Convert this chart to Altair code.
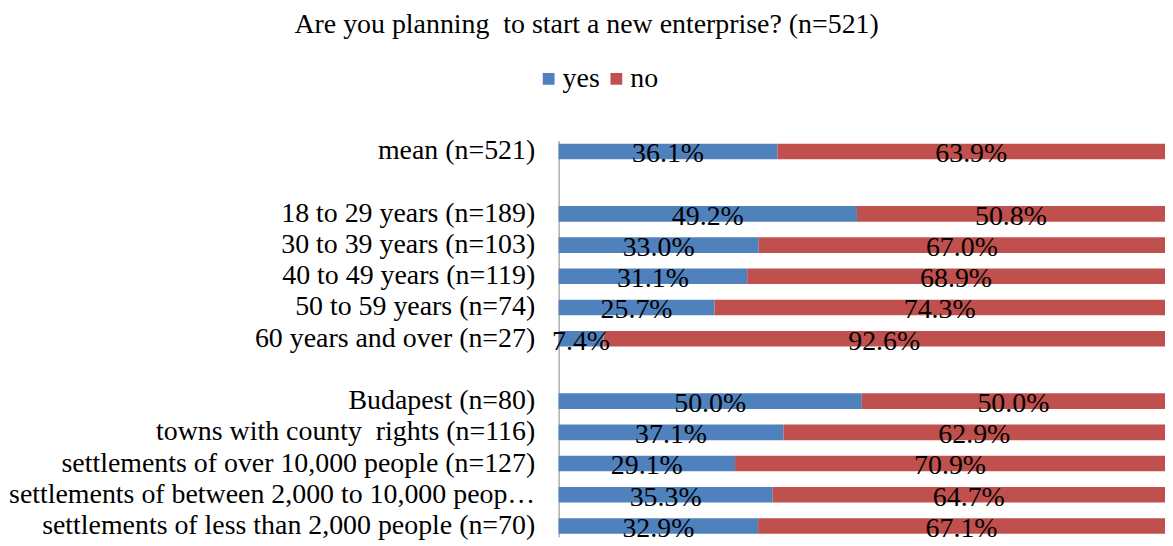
import altair as alt
import pandas as pd

categories = [
    "mean (n=521)",
    "gap1",
    "18 to 29 years (n=189)",
    "30 to 39 years (n=103)",
    "40 to 49 years (n=119)",
    "50 to 59 years (n=74)",
    "60 years and over (n=27)",
    "gap2",
    "Budapest (n=80)",
    "towns with county\u00a0 rights (n=116)",
    "settlements of over 10,000 people (n=127)",
    "settlements of between 2,000 to 10,000 people (n=128)",
    "settlements of less than 2,000 people (n=70)",
]
yes_values = [36.1, None, 49.2, 33.0, 31.1, 25.7, 7.4, None, 50.0, 37.1, 29.1, 35.3, 32.9]
no_values = [63.9, None, 50.8, 67.0, 68.9, 74.3, 92.6, None, 50.0, 62.9, 70.9, 64.7, 67.1]
answers = ["yes", "no"]
colors = ["#4F81BD", "#C0504D"]

rows = []
for c, y, n in zip(categories, yes_values, no_values):
    if y is None:
        continue
    rows.append({"category": c, "answer": "yes", "order": 0, "value": y})
    rows.append({"category": c, "answer": "no", "order": 1, "value": n})
df = pd.DataFrame(rows)

FONT = "Liberation Serif"

y_enc = alt.Y(
    "category:N",
    sort=categories,
    scale=alt.Scale(domain=categories, paddingInner=0.5, paddingOuter=0.1),
    axis=alt.Axis(
        title=None,
        ticks=False,
        domainColor="#868686",
        domainWidth=1,
        labelFont=FONT,
        labelFontSize=28,
        labelColor="black",
        labelPadding=24,
        labelLimit=530,
        labelExpr="indexof(datum.value, 'gap') == 0 ? '' : datum.value",
    ),
)

base = alt.Chart(df).transform_stack(
    stack="value", as_=["x0", "x1"], groupby=["category"], sort=[alt.SortField("order")]
)

bars = base.mark_bar().encode(
    y=y_enc,
    x=alt.X("x0:Q", scale=alt.Scale(domain=[0, 100], nice=False), axis=None),
    x2="x1:Q",
    color=alt.Color(
        "answer:N",
        scale=alt.Scale(domain=answers, range=colors),
        legend=alt.Legend(
            title=None,
            orient="none",
            direction="horizontal",
            legendX=-24,
            legendY=-76,
            symbolType="square",
            symbolSize=140,
            symbolStrokeWidth=0,
            labelFont=FONT,
            labelFontSize=28,
            labelColor="black",
            columnPadding=2,
            labelOffset=0,
        ),
    ),
)

texts = base.transform_calculate(
    mid="(datum.x0 + datum.x1) / 2",
    label="format(datum.value, '.1f') + '%'",
).mark_text(font=FONT, fontSize=28, color="black", baseline="middle", dy=3).encode(
    y=alt.Y("category:N", sort=categories),
    x=alt.X("mid:Q"),
    text="label:N",
)

chart = (
    alt.layer(bars, texts)
    .properties(
        width=609,
        height=398,
        title=alt.TitleParams(
            "Are you planning\u00a0 to start a new enterprise? (n=521)",
            font=FONT,
            fontSize=28,
            fontWeight="normal",
            color="black",
            anchor="middle",
            frame="bounds",
            offset=26,
        ),
        padding={"top": 2, "left": 0, "right": 0, "bottom": 0},
    )
    .configure_view(stroke=None)
)

chart.save("out.html", embed_options={"renderer": "svg", "actions": False})
